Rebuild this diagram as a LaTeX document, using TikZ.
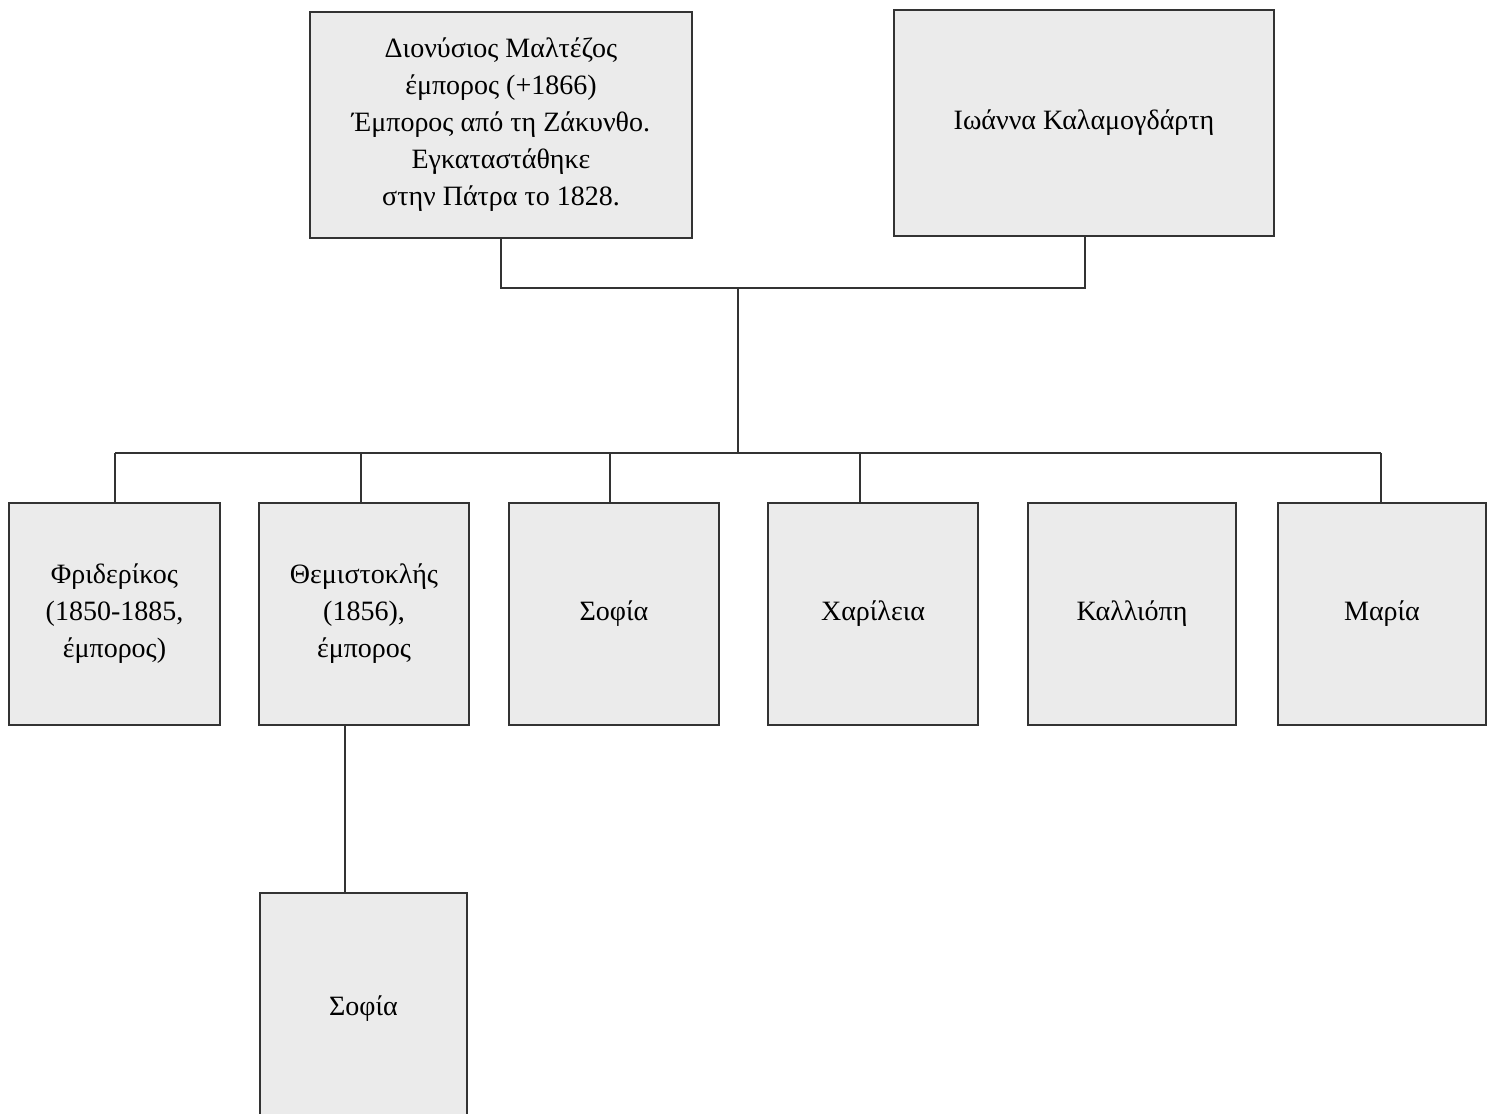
\documentclass[tikz,border=0pt]{standalone}
\usepackage{fontspec}
\setmainfont{Liberation Serif}
\begin{document}
\begin{tikzpicture}[x=1pt,y=-1pt,
  pbox/.style={draw=black!80, line width=1.6pt, fill=black!8, align=center, inner sep=2pt,
    font=\fontsize{28}{37}\selectfont},
  conn/.style={draw=black!80, line width=1.6pt}]
\useasboundingbox[fill=white] (0,0) rectangle (1498,1113);
\node[pbox, minimum width=382pt, minimum height=226pt] (dion) at (501,125)
  {Διονύσιος Μαλτέζος\\ έμπορος (+1866)\\ Έμπορος από τη Ζάκυνθο.\\ Εγκαταστάθηκε\\ στην Πάτρα το 1828.};
\node[pbox, minimum width=380pt, minimum height=226pt] (ioanna) at (1084,123) {Ιωάννα Καλαμογδάρτη};
\node[pbox, minimum width=211pt, minimum height=222pt] (fri) at (114.5,614) {Φριδερίκος\\(1850-1885,\\έμπορος)};
\node[pbox, minimum width=210pt, minimum height=222pt] (them) at (364,614) {Θεμιστοκλής\\(1856),\\έμπορος};
\node[pbox, minimum width=210pt, minimum height=222pt] (sofia) at (614,614) {Σοφία};
\node[pbox, minimum width=210pt, minimum height=222pt] (char) at (873,614) {Χαρίλεια};
\node[pbox, minimum width=208pt, minimum height=222pt] (kall) at (1132,614) {Καλλιόπη};
\node[pbox, minimum width=208pt, minimum height=222pt] (maria) at (1382,614) {Μαρία};
\node[pbox, minimum width=207pt, minimum height=232pt] (sofia2) at (363.5,1009) {Σοφία};
\coordinate (ml) at (501,288);
\coordinate (mr) at (1085,288);
\coordinate (mc) at (738,288);
\coordinate (hc) at (738,453);
\draw[conn] (dion.south -| ml) -- (ml) -- (mr) -- (ioanna.south -| mr);
\draw[conn] (mc) -- (hc);
\draw[conn] (115,453) coordinate (hl) -- (1381,453) coordinate (hr);
\draw[conn] (hl) -- (fri.north -| hl);
\coordinate (h2) at (361,453);
\coordinate (h3) at (610,453);
\coordinate (h4) at (860,453);
\draw[conn] (h2) -- (them.north -| h2);
\draw[conn] (h3) -- (sofia.north -| h3);
\draw[conn] (h4) -- (char.north -| h4);
\draw[conn] (hr) -- (maria.north -| hr);
\coordinate (g) at (345,725);
\draw[conn] (them.south -| g) -- (sofia2.north -| g);
\end{tikzpicture}
\end{document}
